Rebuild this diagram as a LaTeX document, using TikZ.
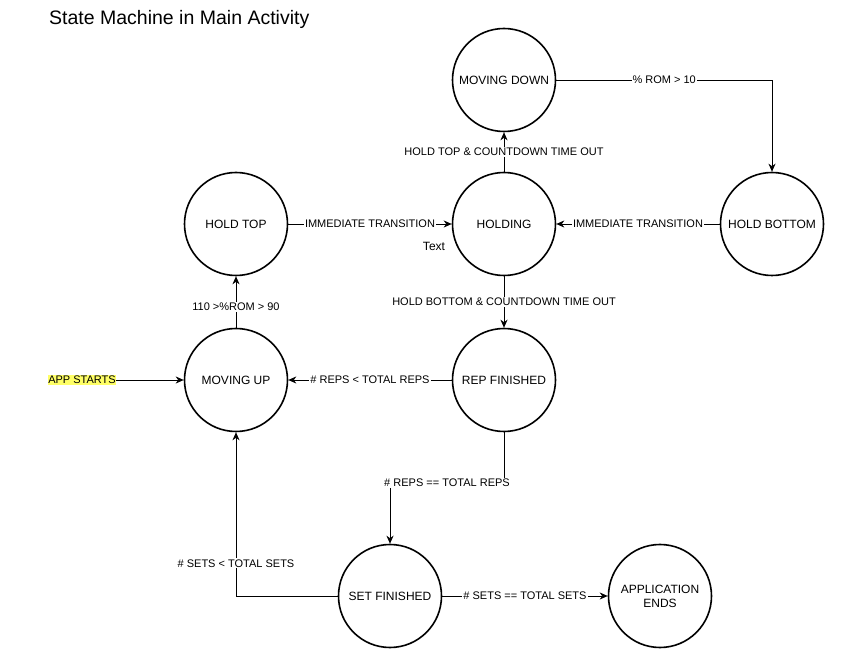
\documentclass[tikz,border=0pt]{standalone}
\usepackage{fontspec}
\setmainfont{Liberation Sans}
\usetikzlibrary{arrows.meta}
\definecolor{hl}{HTML}{FFFF66}
\begin{document}
\begin{tikzpicture}[x=1pt,y=-1pt,
  state/.style={circle,draw,line width=1.6pt,minimum size=103pt,inner sep=0pt,
                font=\fontsize{12}{14}\selectfont,align=center},
  edge/.style={draw,line width=0.8pt,-{Stealth[length=8pt,width=7pt,inset=2.5pt]}},
  lbl/.style={fill=white,inner sep=1pt,font=\fontsize{11}{13}\selectfont}]
\useasboundingbox (0,0) rectangle (847,660);
\node[anchor=base west,font=\fontsize{19.5}{22}\selectfont,inner sep=0pt] (title) at (49,25) {State Machine in Main Activity};

\node[state] (md)   at (504,80)  {MOVING DOWN};
\node[state] (ht)   at (236,224) {HOLD TOP};
\node[state] (hold) at (504,224) {HOLDING};
\node[state] (hb)   at (772,224) {HOLD BOTTOM};
\node[state] (mu)   at (236,380) {MOVING UP};
\node[state] (rf)   at (504,380) {REP FINISHED};
\node[state] (sf)   at (390,596) {SET FINISHED};
\node[state] (ae)   at (660,596) {APPLICATION\\ENDS};

\node[font=\fontsize{12}{14}\selectfont,inner sep=0pt] (txt) at (434,246) {Text};
\node[fill=hl,inner xsep=0pt,inner ysep=1pt,font=\fontsize{11}{13}\selectfont] (app) at (82,380) {APP STARTS};

\draw[edge] (md.east) -- node[lbl]{\% ROM > 10} (md.east -| hb.north) -- (hb.north);
\draw[edge] (hold.north) -- node[lbl]{HOLD TOP \& COUNTDOWN TIME OUT} (md.south);
\draw[edge] (ht.east) -- node[lbl]{IMMEDIATE TRANSITION} (hold.west);
\draw[edge] (hb.west) -- node[lbl]{IMMEDIATE TRANSITION} (hold.east);
\draw[edge] (hold.south) -- node[lbl]{HOLD BOTTOM \& COUNTDOWN TIME OUT} (rf.north);
\draw[edge] (rf.west) -- node[lbl]{\# REPS < TOTAL REPS} (mu.east);
\draw[edge] (mu.north) -- node[lbl,pos=0.4]{110 >\%ROM > 90} (ht.south);
\draw[edge] (app.east) -- (mu.west);
\draw[edge] (rf.south) -- (rf.south |- 0,483) -- node[lbl]{\# REPS == TOTAL REPS} (sf.north |- 0,483) -- (sf.north);
\draw[edge] (sf.west) -| node[lbl,pos=0.6]{\# SETS < TOTAL SETS} (mu.south);
\draw[edge] (sf.east) -- node[lbl]{\# SETS == TOTAL SETS} (ae.west);
\end{tikzpicture}
\end{document}
